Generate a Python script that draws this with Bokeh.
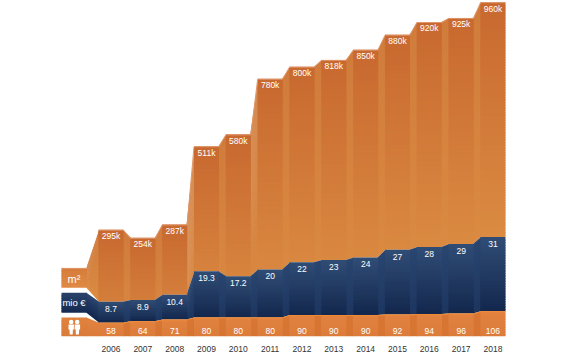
from bokeh.plotting import figure
from bokeh.models import Range1d, FixedTicker
from bokeh.core.properties import value
from bokeh.embed import file_html
from bokeh.resources import INLINE

years = [2006, 2007, 2008, 2009, 2010, 2011, 2012, 2013, 2014, 2015, 2016, 2017, 2018]
area_k = [295, 254, 287, 511, 580, 780, 800, 818, 850, 880, 920, 925, 960]
area_labels = ["295k", "254k", "287k", "511k", "580k", "780k", "800k", "818k", "850k", "880k", "920k", "925k", "960k"]
money = [8.7, 8.9, 10.4, 19.3, 17.2, 20, 22, 23, 24, 27, 28, 29, 31]
money_labels = ["8.7", "8.9", "10.4", "19.3", "17.2", "20", "22", "23", "24", "27", "28", "29", "31"]
people = [58, 64, 71, 80, 80, 80, 90, 90, 90, 92, 94, 96, 106]

# vertical scale of each stacked layer (plot units per data unit)
K_AREA, K_MONEY, K_PEOPLE = 0.246, 2.41, 0.24
BASE_PX = 338
X0_PX, STEP_PX, HALF = 110.5, 31.83, 12.5 / 31.83
BLEED = 0.6 / STEP_PX
FONT = "Liberation Sans"


def px(x):
    return (x - X0_PX) / STEP_PX


def py(y):
    return BASE_PX - y


def mix(a, b, t):
    t = max(0.0, min(1.0, t))
    return "#%02x%02x%02x" % tuple(round(a[i] + (b[i] - a[i]) * t) for i in range(3))


p = figure(width=566, height=354, x_range=Range1d(px(0), px(566)), y_range=Range1d(0, BASE_PX),
           output_backend="svg", toolbar_location=None, min_border=0, min_border_left=0,
           min_border_right=0, min_border_top=0, min_border_bottom=16, outline_line_color=None)
p.background_fill_color = "#ffffff"
p.grid.visible = False
p.yaxis.visible = False
ax = p.xaxis[0]
ax.ticker = FixedTicker(ticks=list(range(len(years))))
ax.major_label_overrides = {i: str(y) for i, y in enumerate(years)}
ax.axis_line_color = None
ax.major_tick_line_color = None
ax.minor_tick_line_color = None
ax.major_tick_out = 0
ax.major_label_standoff = 9
ax.major_label_text_font = FONT
ax.major_label_text_font_size = "8.5px"
ax.major_label_text_color = "#333333"

xs_all, ys_all, cs_all = [], [], []


def strips(x0, x1, t0, b0, t1, b1, c_top, c_bot, tend=1.0):
    # one strip per 2.5 units of height: thinner ones would show as stripes
    n = max(3, int(max(t0 - b0, t1 - b1) / 2.5))
    for k in range(n):
        s0, s1 = k / n, min(1.0, (k + 1.6) / n)
        xs_all.append([x0, x1, x1, x0])
        ys_all.append([t0 + (b0 - t0) * s0, t1 + (b1 - t1) * s0,
                       t1 + (b1 - t1) * s1, t0 + (b0 - t0) * s1])
        cs_all.append(mix(c_top, c_bot, (k + 0.5) / n * tend))


ORANGE_T, ORANGE_B = (200, 105, 48), (219, 139, 66)
ORANGE_CT, ORANGE_CB = (208, 124, 60), (219, 139, 66)
BLUE_T, BLUE_B = (48, 77, 118), (19, 39, 77)
BLUE_CT, BLUE_CB = (42, 70, 112), (28, 54, 96)
LOW_T, LOW_B = (226, 130, 64), (220, 124, 58)
LOW_CT, LOW_CB = (216, 118, 52), (214, 116, 50)

low_top = [v * K_PEOPLE for v in people]
mid_top = [low_top[i] + money[i] * K_MONEY for i in range(len(years))]
top_top = [mid_top[i] + area_k[i] * K_AREA for i in range(len(years))]

lg_l, lg_r = px(61), px(86.5)
first = -HALF

# connectors first, running slightly under their neighbours, so no white seam shows
strips(lg_r - BLEED, first + BLEED, py(269), py(289), top_top[0], mid_top[0], ORANGE_CT, ORANGE_CB)
strips(lg_r - BLEED, first + BLEED, py(294), py(314), mid_top[0], low_top[0], BLUE_CT, BLUE_B)
strips(lg_r - BLEED, first + BLEED, py(319), 0, low_top[0], 0, LOW_T, LOW_B)
for i in range(len(years) - 1):
    h = (top_top[i] - mid_top[i]) / (960 * K_AREA)
    x0, x1 = i + HALF - BLEED, i + 1 - HALF + BLEED
    strips(x0, x1, top_top[i], mid_top[i], top_top[i + 1], mid_top[i + 1],
           ORANGE_CT, ORANGE_CB, tend=0.45 + 0.55 * h)
    strips(x0, x1, mid_top[i], low_top[i], mid_top[i + 1], low_top[i + 1], BLUE_CT, BLUE_CB)
    strips(x0, x1, low_top[i], 0, low_top[i + 1], 0, LOW_CT, LOW_CB)

# legend boxes
strips(lg_l, lg_r, py(269), py(289), py(269), py(289), (214, 124, 58), (224, 138, 70))
strips(lg_l, lg_r, py(294), py(314), py(294), py(314), (40, 66, 106), (22, 42, 80))
strips(lg_l, lg_r, py(319), py(338), py(319), py(338), (224, 130, 62), (218, 122, 56))

# columns
for i in range(len(years)):
    h = (top_top[i] - mid_top[i]) / (960 * K_AREA)
    strips(i - HALF, i + HALF, top_top[i], mid_top[i], top_top[i], mid_top[i],
           ORANGE_T, ORANGE_B, tend=0.45 + 0.55 * h)
    strips(i - HALF, i + HALF, mid_top[i], low_top[i], mid_top[i], low_top[i], BLUE_T, BLUE_B)
    strips(i - HALF, i + HALF, low_top[i], 0, low_top[i], 0, LOW_T, LOW_B)

p.patches(xs_all, ys_all, fill_color=cs_all, line_color=None)

# highlight lines along the top of the area layer and of the people layer
edge_x, edge_top, edge_low = [], [], []
for i in range(len(years)):
    edge_x += [i - HALF, i + HALF]
    edge_top += [top_top[i], top_top[i]]
    edge_low += [low_top[i], low_top[i]]
p.line(edge_x, [v - 0.5 for v in edge_top], line_color="#e0976a", line_width=1)
p.line(edge_x, [v - 0.5 for v in edge_low], line_color="#ee8a34", line_width=1)
p.line([px(61), px(86.5)], [py(269.5)] * 2, line_color="#e0976a", line_width=1)

idx = list(range(len(years)))
common = dict(text_align="center", text_baseline="middle", text_color="#ffffff",
              text_font=value(FONT), text_font_size="8.5px")
p.text(idx, [v - 6.5 for v in top_top], text=area_labels, **common)
p.text(idx, [v - 7 for v in mid_top], text=money_labels, **common)
p.text(idx, [6] * len(idx), text=[str(v) for v in people], **common)

big = dict(common)
big["text_font_size"] = "11px"
p.text([px(73.5)], [py(280)], text=["m²"], **big)
mid = dict(common)
mid["text_font_size"] = "9.5px"
p.text([px(73.5)], [py(304)], text=["mio €"], **mid)

# people icon
heads = [px(70.7), px(76.7)]
p.scatter(heads, [py(323.5)] * 2, marker="circle", size=4.5, fill_color="#ffffff", line_color=None)
p.patches([[px(68), px(73.4), px(73.4), px(72.4), px(72.2), px(69.2), px(69), px(68)],
           [px(74.2), px(79.6), px(79.6), px(78.6), px(78.4), px(75.4), px(75.2), px(74.2)]],
          [[py(326), py(326), py(331), py(331), py(336), py(336), py(331), py(331)]] * 2,
          fill_color="#ffffff", line_color=None)

open("out.html", "w").write(file_html(p, INLINE))
